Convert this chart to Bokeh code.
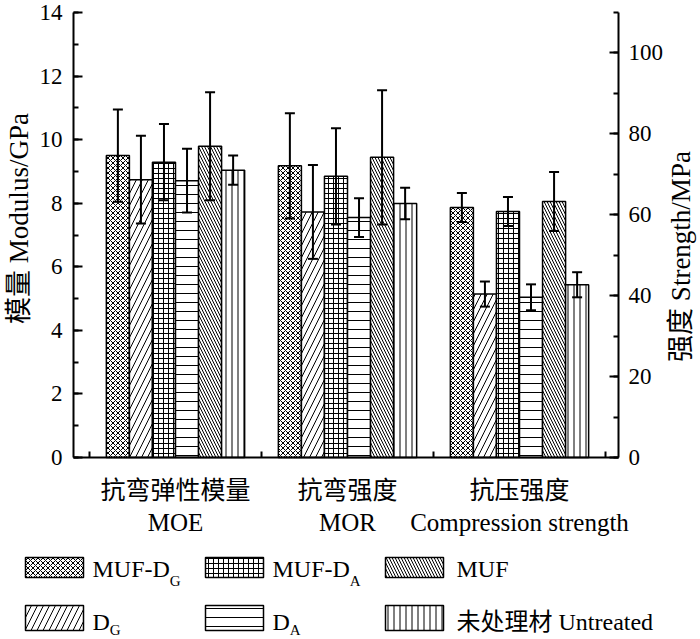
import math
from bokeh.plotting import figure
from bokeh.models import (ColumnDataSource, Range1d, LinearAxis, FixedTicker,
                          SingleIntervalTicker, Whisker, TeeHead)
from bokeh.embed import file_html
from bokeh.resources import INLINE
from bokeh.core.properties import value

# ---------------- data ----------------
groups_cn = ["抗弯弹性模量", "抗弯强度", "抗压强度"]
groups_en = ["MOE", "MOR", "Compression strength"]
series_main = ["MUF-D", "D", "MUF-D", "D", "MUF", "未处理材 Untreated"]
series_sub = ["G", "G", "A", "A", "", ""]

moe_mean = [9.50, 8.74, 9.29, 8.71, 9.79, 9.04]     # GPa (left axis)
moe_err = [1.45, 1.38, 1.20, 1.00, 1.70, 0.46]
mor_mean = [72.1, 60.7, 69.5, 59.3, 74.2, 62.8]     # MPa (right axis)
mor_err = [13.0, 11.6, 11.9, 4.8, 16.6, 3.9]
cs_mean = [61.8, 40.4, 60.8, 39.6, 63.3, 42.7]      # MPa (right axis)
cs_err = [3.6, 3.1, 3.6, 3.2, 7.3, 3.1]

left_max, right_max = 14, 110
left_label = "模量 Modulus/GPa"
right_label = "强度 Strength/MPa"

# ---------------- layout / style ----------------
W, H = 700, 639
FONT = "Liberation Serif, Noto Sans CJK SC"
hatches = ["x", "/", "+", "-", "\\", "|"]
hatch_scales = [5, 12, 5, 9, 6, 6]
BW = 0.134
offsets = [(i - 2.5) * BW for i in range(6)]

# pixel positions of the plot area inside the canvas
AX_L, AX_R, AX_T, AX_B = 73, 618, 12, 457
G1_PX, PXU = 175, 172.0           # centre of group 1, pixels per group
x_lo = 1 - G1_PX / PXU
x_hi = x_lo + W / PXU
pyu = (AX_B - AX_T) / left_max
pyr = (AX_B - AX_T) / right_max
y_lo, y_hi = -(H - AX_B) / pyu, left_max + AX_T / pyu
r_lo, r_hi = -(H - AX_B) / pyr, right_max + AX_T / pyr
xl_axis = x_lo + AX_L / PXU
xr_axis = x_lo + AX_R / PXU

p = figure(width=W, height=H, x_range=Range1d(x_lo, x_hi), y_range=Range1d(y_lo, y_hi),
           output_backend="svg", toolbar_location=None, min_border=0,
           x_axis_location=None, y_axis_location=None)
p.extra_y_ranges = {"right": Range1d(r_lo, r_hi), "py": Range1d(0, H)}
p.extra_x_ranges = {"px": Range1d(0, W)}
p.outline_line_color = None
p.grid.visible = False
p.background_fill_color = "white"
p.border_fill_color = "white"

for i in range(6):
    common = dict(width=BW, bottom=0, fill_color="white", line_color="black", line_width=1.5,
                  hatch_pattern=hatches[i], hatch_scale=hatch_scales[i], hatch_color="black",
                  hatch_weight=1)
    s_l = ColumnDataSource(dict(x=[1 + offsets[i]], top=[moe_mean[i]],
                                upper=[moe_mean[i] + moe_err[i]], lower=[moe_mean[i] - moe_err[i]]))
    p.vbar(x="x", top="top", source=s_l, **common)
    s_r = ColumnDataSource(dict(x=[2 + offsets[i], 3 + offsets[i]], top=[mor_mean[i], cs_mean[i]],
                                upper=[mor_mean[i] + mor_err[i], cs_mean[i] + cs_err[i]],
                                lower=[mor_mean[i] - mor_err[i], cs_mean[i] - cs_err[i]]))
    p.vbar(x="x", top="top", source=s_r, y_range_name="right", **common)
    for src, rn in ((s_l, "default"), (s_r, "right")):
        w = Whisker(source=src, base="x", upper="upper", lower="lower",
                    line_color="black", line_width=2, y_range_name=rn,
                    upper_head=TeeHead(size=10, line_width=2, line_color="black"),
                    lower_head=TeeHead(size=10, line_width=2, line_color="black"))
        w.level = "overlay"
        p.add_layout(w)

# x axis (at y = 0)
xa = LinearAxis(fixed_location=0, bounds=(xl_axis, xr_axis),
                ticker=FixedTicker(ticks=[1, 2, 3], minor_ticks=[0.5, 1.5, 2.5, 3.5]))
xa.major_label_overrides = {k + 1: groups_cn[k] + "\n" + groups_en[k] for k in range(3)}
xa.major_tick_line_color = None
xa.minor_tick_in = 6
xa.minor_tick_out = 0
xa.minor_tick_line_width = 2
xa.axis_line_width = 2
xa.major_label_text_font = FONT
xa.major_label_text_font_size = "25px"
xa.major_label_text_color = "black"
xa.major_label_standoff = 13
p.add_layout(xa, "below")

ya = LinearAxis(fixed_location=xl_axis, bounds=(0, left_max),
                ticker=SingleIntervalTicker(interval=2, num_minor_ticks=2))
p.add_layout(ya, "left")

ra = LinearAxis(y_range_name="right", fixed_location=xr_axis, bounds=(0, right_max),
                ticker=SingleIntervalTicker(interval=20, num_minor_ticks=2))
p.add_layout(ra, "right")

for ax in (ya, ra):
    ax.major_tick_in = 9
    ax.major_tick_out = 0
    ax.minor_tick_in = 5
    ax.minor_tick_out = 0
    ax.major_tick_line_width = 2
    ax.minor_tick_line_width = 2
    ax.axis_line_width = 2
    ax.major_label_text_font = FONT
    ax.major_label_text_font_size = "23px"
    ax.major_label_text_color = "black"
ya.major_label_standoff = 11
ra.major_label_standoff = 10

# axis titles, drawn reading bottom-to-top in pixel space
for tx, ty, txt in ((18, 218, left_label), (680, 256, right_label)):
    p.text(x=[tx], y=[H - ty], text=[txt], angle=math.pi / 2,
           x_range_name="px", y_range_name="py", text_font=value(FONT), text_font_size="27px",
           text_align="center", text_baseline="middle", text_color="black")

# ---------------- legend (pixel layout in px / py ranges) ----------------
LEG_FS = 24
col_patch = [25, 205, 385]
col_text = [92, 272, 456]
row_box = [(H - 577, H - 557), (H - 630, H - 605)]
row_base = [H - 568, H - 621]
sub_base = [H - 580, H - 629]
em = {"MUF-D": 3.222, "D": 0.722}
order = [0, 2, 4, 1, 3, 5]
for k, i in enumerate(order):
    r, c = divmod(k, 3)
    p.quad(left=[col_patch[c]], right=[col_patch[c] + 58], bottom=[row_box[r][0]], top=[row_box[r][1]],
           x_range_name="px", y_range_name="py",
           fill_color="white", line_color="black", line_width=1.5,
           hatch_pattern=hatches[i], hatch_scale=hatch_scales[i], hatch_color="black", hatch_weight=1)
    p.text(x=[col_text[c]], y=[row_base[r]], text=[series_main[i]], text_font=value(FONT),
           x_range_name="px", y_range_name="py",
           text_font_size=f"{LEG_FS}px", text_baseline="alphabetic", text_align="left", text_color="black")
    if series_sub[i]:
        p.text(x=[col_text[c] + em[series_main[i]] * LEG_FS], y=[sub_base[r]],
               text=[series_sub[i]], x_range_name="px", y_range_name="py",
               text_font=value(FONT), text_font_size="15px", text_baseline="alphabetic",
               text_align="left", text_color="black")

open("out.html", "w").write(file_html(p, INLINE))
